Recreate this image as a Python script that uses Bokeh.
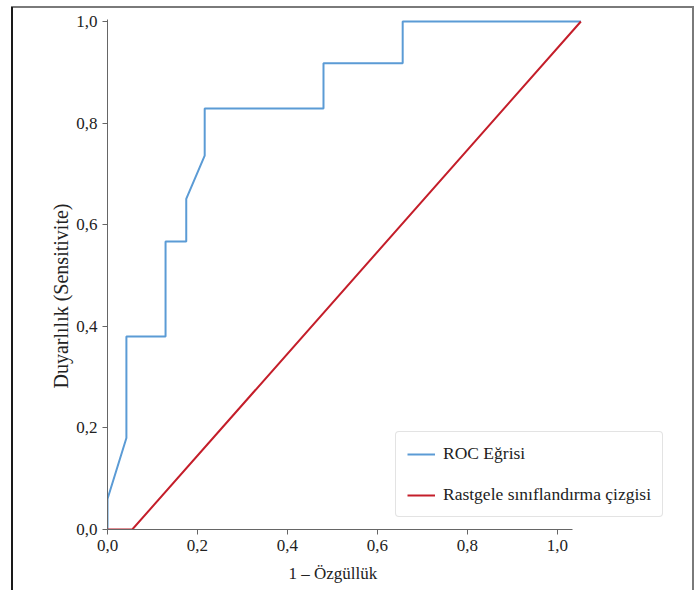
from bokeh.plotting import figure
from bokeh.models import FixedTicker, Range1d, Legend, LegendItem, Title
from bokeh.embed import file_html
from bokeh.resources import INLINE

# ---- data ----
roc_fpr = [0.0, 0.0, 0.042, 0.042, 0.129, 0.129, 0.175, 0.175, 0.216, 0.216, 0.48, 0.48, 0.656, 0.656, 1.052]
roc_tpr = [0.0, 0.06, 0.18, 0.38, 0.38, 0.567, 0.567, 0.651, 0.736, 0.829, 0.829, 0.918, 0.918, 1.0, 1.0]
rand_x = [0.0, 0.055, 1.052]
rand_y = [0.0, 0.0, 1.0]

tick_values = [0.0, 0.2, 0.4, 0.6, 0.8, 1.0]
tick_labels = ["0,0", "0,2", "0,4", "0,6", "0,8", "1,0"]

series_names = ["ROC Eğrisi", "Rastgele sınıflandırma çizgisi"]
x_title = "1 – Özgüllük"
y_title = "Duyarlılık (Sensitivite)"

FONT = "Liberation Serif"
TEXT = "#222222"
AXIS = "#666666"

p = figure(width=696, height=590, output_backend="svg", toolbar_location=None,
           x_range=Range1d(0, 1.2556), y_range=Range1d(0, 1.0079),
           min_border_left=107, min_border_right=24, min_border_top=17, min_border_bottom=61)
p.border_fill_color = None
p.background_fill_color = None
p.outline_line_color = None
p.grid.visible = False
p.styles = {
    "background": ("linear-gradient(#1a1a1a,#1a1a1a) 11px 7px / 2px 583px no-repeat, "
                   "linear-gradient(#7a7a7a,#7a7a7a) 11px 6px / 683px 2px no-repeat, "
                   "linear-gradient(#7a7a7a,#7a7a7a) 692px 6px / 2px 584px no-repeat, #ffffff"),
}

r_roc = p.line(roc_fpr, roc_tpr, line_color="#5B9BD5", line_width=2)
r_rand = p.line(rand_x, rand_y, line_color="#C41E2A", line_width=2)

for ax in (p.xaxis[0], p.yaxis[0]):
    ax.ticker = FixedTicker(ticks=tick_values)
    ax.major_label_overrides = {v: l for v, l in zip(tick_values, tick_labels)}
    ax.minor_tick_line_color = None
    ax.major_tick_in = 0
    ax.major_tick_out = 5
    ax.axis_line_color = AXIS
    ax.major_tick_line_color = AXIS
    ax.major_label_text_font = FONT
    ax.major_label_text_font_size = "17px"
    ax.major_label_text_color = TEXT
    ax.major_label_standoff = 5

p.xaxis.bounds = (0, 1.034)
p.yaxis.bounds = (0, 1.004)

# axis titles (placed as side titles so they can be positioned like the reference)
xt = Title(text=x_title, align="left", offset=181, text_font=FONT, text_font_size="17px",
           text_font_style="normal", text_color=TEXT, standoff=16)
p.add_layout(xt, "below")
yt = Title(text=y_title, align="left", offset=141, text_font=FONT, text_font_size="20px",
           text_font_style="normal", text_color=TEXT, standoff=4)
p.add_layout(yt, "left")

legend = Legend(items=[LegendItem(label=series_names[0], renderers=[r_roc]),
                       LegendItem(label=series_names[1], renderers=[r_rand])],
                location=(288, 12))
legend.label_text_font = FONT
legend.label_text_font_size = "17.5px"
legend.label_text_color = TEXT
legend.glyph_width = 28
legend.glyph_height = 20
legend.label_height = 20
legend.label_standoff = 8
legend.spacing = 20
legend.padding = 11
legend.margin = 0
legend.border_line_color = "#c8c8c8"
legend.border_line_width = 1
legend.background_fill_color = "#ffffff"
legend.background_fill_alpha = 1.0
if "border_radius" in Legend.properties():
    legend.border_radius = 4
p.add_layout(legend, "center")

open("out.html", "w").write(file_html(p, INLINE))
